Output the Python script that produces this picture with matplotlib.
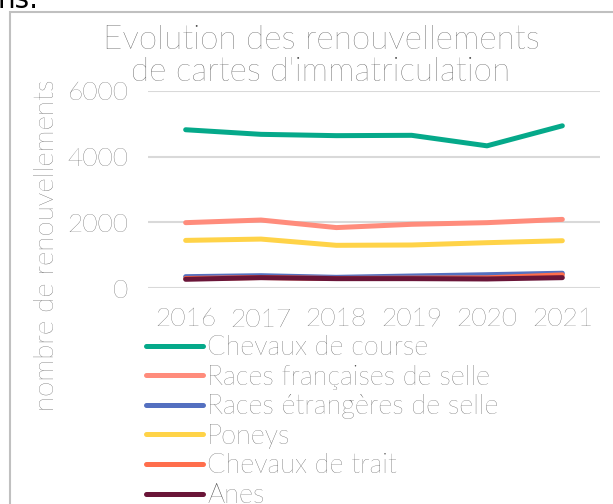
import matplotlib.pyplot as plt
from matplotlib.patches import Rectangle

plt.rcParams['font.family'] = ['Lato', 'DejaVu Sans']

years = ['2016', '2017', '2018', '2019', '2020', '2021']

course = [4820, 4680, 4640, 4650, 4330, 4940]
fr_selle = [1990, 2070, 1840, 1940, 1990, 2090]
etr_selle = [345, 375, 325, 365, 405, 450]
poneys = [1450, 1490, 1300, 1310, 1380, 1440]
trait = [290, 320, 290, 300, 310, 400]
anes = [265, 315, 285, 285, 275, 315]

labels = ['Chevaux de course', 'Races françaises de selle', 'Races étrangères de selle',
          'Poneys', 'Chevaux de trait', 'Anes']
colors = ['#05a98a', '#ff8c7c', '#5470c0', '#ffd348', '#ff6e4c', '#6a1538']
series = [course, fr_selle, etr_selle, poneys, trait, anes]

txt_col = '#454545'

W, H = 613, 504
fig = plt.figure(figsize=(W / 100, H / 100), dpi=100)

# chart frame
fig.patches.append(Rectangle((10 / W, -0.1), 1.2, 1.1 - 12 / H, transform=fig.transFigure,
                             fill=False, edgecolor='#c0c0c0', linewidth=1.5))

# piece of document text above the chart
fig.text(-2 / W, 1 - 8 / H, 'ns.', fontsize=20, color='black', family='DejaVu Sans', va='baseline')

ax = fig.add_axes([148 / W, 1 - 288 / H, 452 / W, 197 / H])
x = range(len(years))
for vals, lab, col in zip(series, labels, colors):
    ax.plot(x, vals, color=col, linewidth=3.6, solid_capstyle='round',
            solid_joinstyle='round', label=lab)

ax.set_xlim(-0.5, len(years) - 0.5)
ax.set_ylim(0, 6000)
ax.set_yticks([0, 2000, 4000, 6000])
ax.set_xticks(list(x))
ax.set_xticklabels(years)
ax.grid(axis='y', color='#d9d9d9', linewidth=1.5)
ax.set_axisbelow(True)
for s in ax.spines.values():
    s.set_visible(False)
ax.tick_params(length=0, labelsize=19, labelcolor=txt_col)
ax.tick_params(axis='y', pad=14)
ax.tick_params(axis='x', pad=14)
for t in ax.get_xticklabels() + ax.get_yticklabels():
    t.set_fontweight('light')

fig.text(321 / W, 1 - 56 / H, "Evolution des renouvellements\nde cartes d'immatriculation",
         ha='center', va='center', fontsize=24, color=txt_col, fontweight='light',
         linespacing=1.05)

fig.text(47 / W, 1 - 245 / H, 'nombre de renouvellements', rotation=90,
         ha='center', va='center', fontsize=20, color=txt_col, fontweight='light')

leg = ax.legend(loc='upper left', bbox_to_anchor=(146 / W, 1 - 335 / H),
                bbox_transform=fig.transFigure, frameon=False, fontsize=19.5,
                handlelength=2.1, handletextpad=0.15, labelspacing=0.17,
                borderpad=0, borderaxespad=0)
for t in leg.get_texts():
    t.set_color(txt_col)
    t.set_fontweight('light')

fig.savefig('out.png', dpi=100)
